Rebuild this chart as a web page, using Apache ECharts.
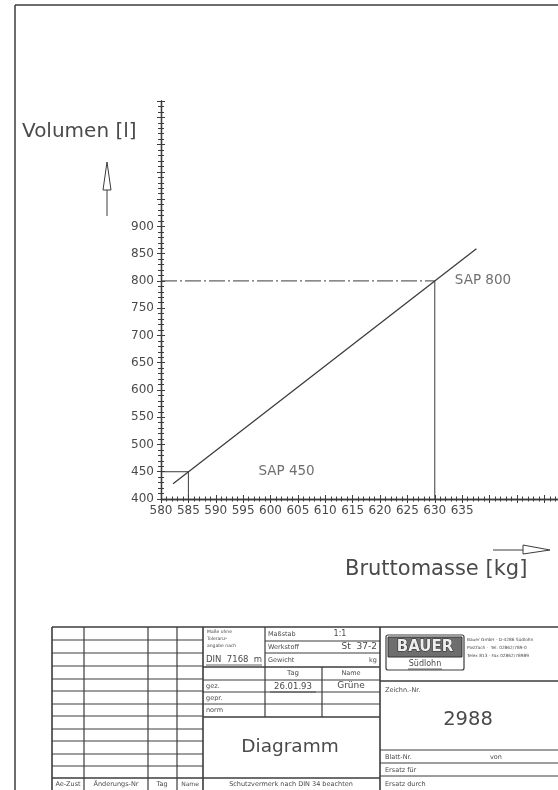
<!DOCTYPE html>
<html>
<head>
<meta charset="utf-8">
<title>Diagramm 2988</title>
<script src="https://cdn.jsdelivr.net/npm/echarts@6/dist/echarts.min.js"></script>
<style>
  html, body { margin: 0; padding: 0; background: #ffffff; }
  #chart { width: 558px; height: 790px; }
</style>
</head>
<body>
<div id="chart"></div>
<script>
// Axis tick labels (only these are printed; the scales run on further)
const massTickLabels = ['580', '585', '590', '595', '600', '605', '610', '615', '620', '625', '630', '635'];
const volumeTickLabels = ['400', '450', '500', '550', '600', '650', '700', '750', '800', '850', '900'];

// Characteristic line: Bruttomasse [kg] -> Volumen [l]
const lineMass = [582.2, 637.6];
const lineVolume = [428, 859];

// Marked sizes
const sapNames = ['SAP 450', 'SAP 800'];
const sapMass = [585, 630];
const sapVolume = [450, 800];

const X_MIN = 580, X_MAX = 652.5;
const Y_MIN = 400, Y_MAX = 1130;

const INK = '#3c3c3c';
const TEXT = '#4a4a4a';
const FONT = '"DejaVu Sans", sans-serif';

// ---------- drawing-frame / title-block helpers ----------
const gfx = [];
function ln(x1, y1, x2, y2, w) {
  gfx.push({ type: 'line', silent: true,
    shape: { x1: x1, y1: y1, x2: x2, y2: y2 },
    style: { stroke: INK, lineWidth: w || 1 } });
}
function tx(x, y, text, size, align, extra) {
  gfx.push({ type: 'text', silent: true, x: x, y: y,
    style: Object.assign({ text: text, fontFamily: FONT, fontSize: size,
      fill: TEXT, align: align || 'left', verticalAlign: 'middle' }, extra || {}) });
}

// outer frame
ln(15, 5, 558, 5, 1.5);
ln(15, 5, 15, 790, 1.5);

// axis titles and arrows
tx(22, 132, 'Volumen [l]', 20);
ln(107, 190, 107, 216, 1);
gfx.push({ type: 'polygon', silent: true,
  shape: { points: [[103, 190], [111, 190], [107, 162]] },
  style: { stroke: INK, fill: 'none', lineWidth: 1 } });
tx(345, 570, 'Bruttomasse [kg]', 21);
ln(493, 550, 523, 550, 1);
gfx.push({ type: 'polygon', silent: true,
  shape: { points: [[523, 545], [523, 554], [550, 550]] },
  style: { stroke: INK, fill: 'none', lineWidth: 1 } });

// ---------- title block ----------
const TB_TOP = 627, TB_BOT = 790;
ln(52, TB_TOP, 558, TB_TOP, 1.6);
ln(52, TB_TOP, 52, TB_BOT, 1.6);
// revision table (left)
[84, 148, 177].forEach(function (x) { ln(x, TB_TOP, x, TB_BOT, 1.2); });
ln(203, TB_TOP, 203, TB_BOT, 1.6);
const revRows = [640, 653, 666, 679, 691, 704, 716, 729, 741, 754, 766, 778];
revRows.forEach(function (y, i) { ln(52, y, 203, y, i === revRows.length - 1 ? 1.4 : 1); });
tx(68, 784, 'Ae-Zust', 6.5, 'center');
tx(116, 784, 'Änderungs-Nr', 6.5, 'center');
tx(162, 784, 'Tag', 6.5, 'center');
tx(190, 784, 'Name', 6, 'center');

// middle section
ln(265, TB_TOP, 265, 717, 1.2);
ln(322, 667, 322, 717, 1.2);
ln(380, TB_TOP, 380, TB_BOT, 1.6);
ln(265, 641, 380, 641, 1);
ln(265, 653, 380, 653, 1);
ln(203, 667, 380, 667, 1.4);
ln(203, 680, 380, 680, 1);
ln(203, 692, 380, 692, 1);
ln(203, 704, 380, 704, 1);
ln(203, 717, 380, 717, 1.4);
ln(203, 778, 380, 778, 1.4);

tx(207, 632, 'Maße ohne', 4.5);
tx(207, 639, 'Toleranz-', 4.5);
tx(207, 646, 'angabe nach', 4.5);
tx(206, 660, 'DIN  7168  m', 8.5);
ln(206, 665, 262, 665, 0.8);
tx(268, 634, 'Maßstab', 6.5);
tx(340, 634, '1:1', 8, 'center');
tx(268, 647, 'Werkstoff', 6.5);
tx(377, 647, 'St  37-2', 9, 'right');
tx(268, 660, 'Gewicht', 6.5);
tx(377, 660, 'kg', 6.5, 'right');
tx(293, 673, 'Tag', 7, 'center');
tx(351, 673, 'Name', 6.5, 'center');
tx(206, 686, 'gez.', 6.5);
tx(293, 687, '26.01.93', 8.5, 'center');
ln(270, 692, 316, 692, 0.8);
tx(351, 686, 'Grüne', 9, 'center');
tx(206, 698, 'gepr.', 6.5);
tx(206, 710, 'norm', 6.5);
tx(290, 747, 'Diagramm', 18.5, 'center');
tx(291, 784, 'Schutzvermerk nach DIN 34 beachten', 6.5, 'center');

// right section
ln(380, 681, 558, 681, 1.4);
ln(380, 750, 558, 750, 1.2);
ln(380, 763, 558, 763, 1);
ln(380, 776, 558, 776, 1);
gfx.push({ type: 'rect', silent: true, shape: { x: 386, y: 635, width: 78, height: 35, r: 2 },
  style: { stroke: INK, fill: 'none', lineWidth: 1.2 } });
gfx.push({ type: 'rect', silent: true, shape: { x: 388, y: 637, width: 74, height: 20 },
  style: { stroke: '#333', fill: '#6e6e6e', lineWidth: 1 } });
tx(425, 647.5, 'BAUER', 15, 'center', { fontWeight: 'bold', fill: '#eeeeee', stroke: '#2a2a2a', lineWidth: 1 });
tx(425, 664, 'Südlohn', 8, 'center');
ln(408, 669, 442, 669, 0.8);
tx(467, 640, 'Bauer GmbH · D-4286 Südlohn', 4.3);
tx(467, 648, 'Postfach ·  Tel. 02862/789-0', 4.3);
tx(467, 656, 'Telex 813 · Fax 02862/78989', 4.3);
tx(385, 690, 'Zeichn.-Nr.', 6.5);
tx(468, 720, '2988', 19.5, 'center');
tx(385, 757, 'Blatt-Nr.', 6.5);
tx(490, 757, 'von', 6.5);
tx(385, 770, 'Ersatz für', 6.5);
tx(385, 784, 'Ersatz durch', 6.5);

// ---------- chart series built from the data ----------
const linePoints = lineMass.map(function (m, i) { return [m, lineVolume[i]]; });

// horizontal guide from the volume axis to the point, then a drop line to the mass axis
const guideSeries = [];
sapMass.forEach(function (m, i) {
  const v = sapVolume[i];
  guideSeries.push({
    type: 'line', silent: true, symbol: 'none', xAxisIndex: 0, yAxisIndex: 0,
    data: [[X_MIN, v], [m, v]],
    lineStyle: { color: INK, width: 1, type: i === 1 ? [16, 3, 2, 3] : 'solid' },
    z: 2
  });
  guideSeries.push({
    type: 'line', silent: true, symbol: 'none', xAxisIndex: 0, yAxisIndex: 0,
    data: [[m, v], [m, Y_MIN]],
    lineStyle: { color: INK, width: 1, type: 'solid' },
    z: 2
  });
});

const labelSeries = {
  type: 'scatter', silent: true, symbolSize: 0.1, xAxisIndex: 0, yAxisIndex: 0,
  data: sapMass.map(function (m, i) {
    return {
      value: [m, sapVolume[i]],
      label: { show: true, position: 'right', distance: i === 0 ? 70 : 20,
        formatter: sapNames[i], fontFamily: FONT, fontSize: 13.5, color: TEXT }
    };
  }),
  z: 4
};

function axisBase(extra) {
  return Object.assign({
    type: 'value', scale: true, splitLine: { show: false },
    axisLine: { show: true, onZero: false, lineStyle: { color: INK, width: 1.3 } }
  }, extra);
}

const option = {
  animation: false,
  backgroundColor: '#ffffff',
  grid: { left: 161, right: 0, top: 101, bottom: 291, containLabel: false },
  xAxis: [
    axisBase({
      min: X_MIN, max: X_MAX, interval: 5, position: 'bottom',
      axisTick: { show: true, inside: false, length: 4, lineStyle: { color: INK, width: 1 } },
      minorTick: { show: true, splitNumber: 5, length: 2.5, lineStyle: { color: INK, width: 1 } },
      axisLabel: {
        show: true, margin: 6, fontFamily: FONT, fontSize: 12, color: TEXT,
        showMaxLabel: false,
        formatter: function (v) { const s = String(Math.round(v)); return massTickLabels.indexOf(s) >= 0 && Math.abs(v - Math.round(v)) < 1e-6 ? s : ''; }
      }
    }),
    axisBase({
      min: X_MIN, max: X_MAX, interval: 5, position: 'bottom',
      axisTick: { show: true, inside: true, length: 4, lineStyle: { color: INK, width: 1 } },
      minorTick: { show: true, splitNumber: 5, length: 2.5, lineStyle: { color: INK, width: 1 } },
      axisLabel: { show: false }
    })
  ],
  yAxis: [
    axisBase({
      min: Y_MIN, max: Y_MAX, interval: 50, position: 'left',
      axisTick: { show: true, inside: false, length: 4, lineStyle: { color: INK, width: 1 } },
      minorTick: { show: true, splitNumber: 5, length: 3, lineStyle: { color: INK, width: 1 } },
      axisLabel: {
        show: true, margin: 7, fontFamily: FONT, fontSize: 12, color: TEXT,
        showMaxLabel: false,
        formatter: function (v) { const s = String(Math.round(v)); return volumeTickLabels.indexOf(s) >= 0 ? s : ''; }
      }
    }),
    axisBase({
      min: Y_MIN, max: Y_MAX, interval: 50, position: 'left',
      axisTick: { show: true, inside: true, length: 4, lineStyle: { color: INK, width: 1 } },
      minorTick: { show: true, splitNumber: 5, length: 3, lineStyle: { color: INK, width: 1 } },
      axisLabel: { show: false }
    })
  ],
  series: [
    {
      type: 'line', silent: true, symbol: 'none', xAxisIndex: 0, yAxisIndex: 0,
      data: linePoints,
      lineStyle: { color: INK, width: 1.3 },
      z: 3
    }
  ].concat(guideSeries, [labelSeries]),
  graphic: { elements: gfx }
};

const chart = echarts.init(document.getElementById('chart'), null, { renderer: 'canvas' });
chart.setOption(option);
</script>
</body>
</html>
